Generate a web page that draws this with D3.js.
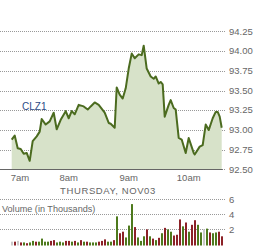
<!DOCTYPE html>
<html><head><meta charset="utf-8">
<script src="https://cdn.jsdelivr.net/npm/d3@7"></script>
<style>
html,body{margin:0;padding:0;background:#fff;}
svg{display:block;font-family:"Liberation Sans",Arial,sans-serif;}
</style></head>
<body><svg id="c" width="260" height="247"></svg>
<script>
// minutes after 7:00am
const priceTimes = [3,6,9,12,15,18,21,24,28,31,33,37,41,45,48,52,57,60,63,66,70,75,79,82,86,90,96,100,102,106,108,111,114,117,120,123,126,130,133,135,138,142,145,147,150,152,154,156,160,162,165,167,170,173,177,180,185,186,191,194,197,200,204,207,209,211,213];
const prices = [92.88,92.93,92.77,92.76,92.70,92.71,92.61,92.86,92.92,92.98,93.14,93.07,93.11,93.22,93.01,93.13,93.24,93.15,93.24,93.20,93.32,93.30,93.26,93.30,93.35,93.32,93.22,93.09,93.08,93.03,93.54,93.45,93.40,93.53,93.78,93.97,93.91,93.96,93.95,94.07,93.78,93.68,93.65,93.68,93.59,93.61,93.58,93.17,93.32,93.38,93.28,93.26,92.90,92.88,92.71,92.90,92.71,92.69,92.79,92.81,93.07,93.00,93.15,93.23,93.23,93.17,93.03];
const volStart = 3, volStep = 3;
const volumes = [0.5,0.5,0.6,0.4,0.4,0.3,0.4,0.6,0.5,0.5,0.9,0.5,0.5,0.6,0.7,0.4,0.5,0.4,0.6,0.6,0.5,0.6,0.4,0.7,0.5,0.5,0.4,0.4,0.4,0.5,0.6,0.8,0.5,0.5,0.7,3.8,1.6,1.8,1.05,2.6,5.4,2.4,1.05,0.6,1.2,2.1,1.2,0.9,0.7,1.0,1.6,2.3,2.1,1.8,1.3,1.4,3.4,2.5,3.0,1.8,2.7,3.3,2.7,1.7,2.1,2.2,1.7,1.6,1.7,1.8,1.2];
const volDir = ["n","d","n","d","u","d","u","u","d","u","u","u","u","d","d","u","u","u","d","d","u","d","u","d","u","d","u","u","u","d","d","d","u","u","d","u","d","d","u","u","u","d","u","u","u","d","u","d","u","d","u","d","u","u","d","d","d","u","d","u","d","d","u","u","n","u","d","u","u","d","d"];
const priceTicks = [92.5,92.75,93.0,93.25,93.5,93.75,94.0,94.25];
const volTicks = [2,4,6];
const hourTicks = [0,60,120,180];
const hourLabels = ["7am","8am","9am","10am"];
const symbol = "CLZ1";
const dateLabel = "THURSDAY, NOV03";
const volTitle = "Volume (in Thousands)";

const svg = d3.select("#c");
const x = d3.scaleLinear().domain([0,60]).range([8.7,68.7]);
const y = d3.scaleLinear().domain([92.5,94.25]).range([169.5,31.5]);
const yv = d3.scaleLinear().domain([0,6]).range([245.5,199.5]);
const gridRight = 226, labelX = 229;
const py = v => Math.round(v-0.1)+0.5;
const pv = v => Math.round(v)-0.5;
const txtCol = "#666";

// price grid
svg.append("g").selectAll("line").data(priceTicks).join("line")
  .attr("x1",0).attr("x2",gridRight).attr("y1",d=>py(y(d))).attr("y2",d=>py(y(d)))
  .attr("stroke","#999").attr("stroke-dasharray","1,1");
svg.append("g").selectAll("text").data(priceTicks).join("text")
  .attr("x",labelX).attr("y",d=>Math.round(y(d))+2.5)
  .attr("font-size",9.5).attr("fill",txtCol).text(d=>d.toFixed(2));

// area + line
const pts = priceTimes.map((t,i)=>({t,p:prices[i]}));
svg.append("path").datum(pts)
  .attr("d",d3.area().x(d=>x(d.t)).y0(y(92.5)).y1(d=>y(d.p)))
  .attr("fill","#d7e2c9");
svg.append("path").datum(pts)
  .attr("d",d3.line().x(d=>x(d.t)).y(d=>y(d.p)))
  .attr("fill","none").attr("stroke","#4b6b1f").attr("stroke-width",2).attr("stroke-linejoin","round");

// baseline axis
svg.append("line").attr("x1",0).attr("x2",x(priceTimes[priceTimes.length-1])+1)
  .attr("y1",py(y(92.5))).attr("y2",py(y(92.5))).attr("stroke","#666").attr("stroke-width",1.2);

// symbol
svg.append("text").attr("x",22).attr("y",109.5).attr("font-size",10).attr("fill","#2b4a86").text(symbol);

// hour labels
const plotLeft = x(priceTimes[0]);
svg.append("g").selectAll("text").data(hourTicks).join("text")
  .attr("font-size",9.5).attr("fill",txtCol).attr("y",181)
  .text((d,i)=>hourLabels[i])
  .attr("text-anchor","middle")
  .attr("x",function(d){const w=this.getComputedTextLength();return Math.max(x(d), plotLeft+w/2-1);});

svg.append("text").attr("x",108).attr("y",194).attr("text-anchor","middle")
  .attr("font-size",9.5).attr("letter-spacing",0.6).attr("fill",txtCol).text(dateLabel);

// volume grid
svg.append("g").selectAll("line").data(volTicks).join("line")
  .attr("x1",0).attr("x2",gridRight).attr("y1",d=>pv(yv(d))).attr("y2",d=>pv(yv(d)))
  .attr("stroke","#999").attr("stroke-dasharray","1,1");
svg.append("g").selectAll("text").data(volTicks).join("text")
  .attr("x",labelX).attr("y",d=>Math.round(yv(d))+3)
  .attr("font-size",9.5).attr("fill",txtCol).text(d=>d);
svg.append("text").attr("x",2).attr("y",212).attr("font-size",9.1).attr("fill",txtCol).text(volTitle);

const colors = {u:"#4e7a1d",d:"#8c2127",n:"#c9c9c9"};
svg.append("g").selectAll("rect").data(volumes).join("rect")
  .attr("x",(d,i)=>Math.round(x(volStart+i*volStep))-1)
  .attr("width",2)
  .attr("y",d=>yv(d)).attr("height",d=>yv(0)-yv(d))
  .attr("fill",(d,i)=>colors[volDir[i]]);
</script></body></html>
